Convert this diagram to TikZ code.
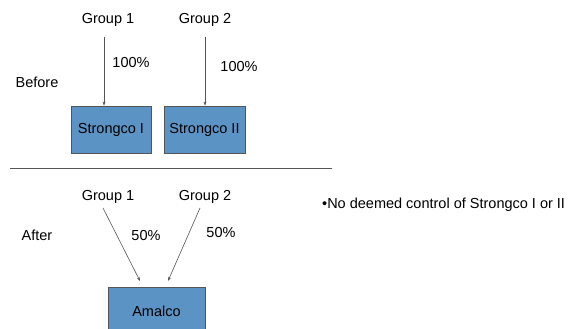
\documentclass[tikz,border=0pt]{standalone}
\usepackage{fontspec}
\setmainfont{Liberation Sans}
\usetikzlibrary{arrows.meta}
\definecolor{boxblue}{HTML}{5B93C4}
\definecolor{linegray}{HTML}{555555}
\tikzset{
  lbl/.style={font=\fontsize{14.5}{17}\selectfont, inner sep=0pt},
  entity/.style={draw=linegray, fill=boxblue, line width=0.8pt, font=\fontsize{14.5}{17}\selectfont, inner sep=0pt},
  own/.style={draw=linegray, line width=0.6pt, -{Stealth[length=4pt,width=3pt]}}
}
\begin{document}
\begin{tikzpicture}[x=1pt,y=-1pt]
\useasboundingbox (0,0) rectangle (571,329);
\clip (0,0) rectangle (571,329);
% Before
\node[lbl] (b) at (37,82) {Before};
\node[lbl] (g1) at (108,20) {Group 1};
\node[lbl] (g2) at (205,20) {Group 2};
\node[entity, minimum width=80pt, minimum height=47pt] (s1) at (111,129.5) {Strongco I};
\node[entity, minimum width=81pt, minimum height=47pt] (s2) at (204.5,129.5) {Strongco II};
\coordinate (t1) at (104,37);
\coordinate (t2) at (205,37);
\draw[own] (t1) -- (t1 |- s1.north);
\draw[own] (t2) -- (t2 |- s2.north);
\node[lbl] (p1) at (131,63) {100\%};
\node[lbl] (p2) at (239,67) {100\%};
% divider
\coordinate (d1) at (10,168.5);
\coordinate (d2) at (332,168.5);
\draw[draw=linegray, line width=0.8pt] (d1) -- (d2);
% After
\node[lbl] (a) at (37,235) {After};
\node[lbl] (h1) at (108,197) {Group 1};
\node[lbl] (h2) at (205,197) {Group 2};
\node[entity, minimum width=97pt, minimum height=50pt, anchor=north] (am) at (156.5,287) {};
\node[lbl] (amt) at (156.5,311) {Amalco};
\coordinate (u1) at (103,208);
\coordinate (u2) at (200,208);
\coordinate (e1) at (140,281);
\coordinate (e2) at (168,281);
\draw[own] (u1) -- (e1);
\draw[own] (u2) -- (e2);
\node[lbl] (q1) at (146,236) {50\%};
\node[lbl] (q2) at (221,233) {50\%};
\node[lbl, anchor=west] (note) at (322,205) {\textbullet No deemed control of Strongco I or II};
\end{tikzpicture}
\end{document}
